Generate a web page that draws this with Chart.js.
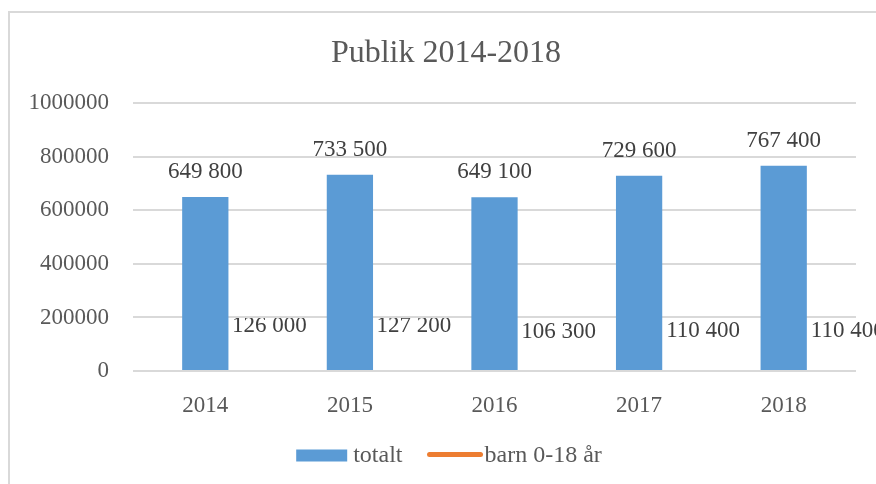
<!DOCTYPE html>
<html>
<head>
<meta charset="utf-8">
<title>Publik 2014-2018</title>
<script src="https://cdn.jsdelivr.net/npm/chart.js@4.4.1/dist/chart.umd.min.js"></script>
<style>
  html, body { margin: 0; padding: 0; background: #fff; }
  #wrap { position: relative; width: 876px; height: 484px; overflow: hidden; }
  #frame { position: absolute; left: 8px; top: 11px; width: 900px; height: 500px; border: 2px solid #d9d9d9; box-sizing: border-box; }
  #chart { position: absolute; left: 0; top: 0; }
</style>
</head>
<body>
<div id="wrap">
  <div id="frame"></div>
  <canvas id="chart" width="876" height="484"></canvas>
</div>
<script>
// values
const years = ['2014', '2015', '2016', '2017', '2018'];
const totalt = [649800, 733500, 649100, 729600, 767400];
const barn = [126000, 127200, 106300, 110400, 110400];
const yTicks = [0, 200000, 400000, 600000, 800000, 1000000];

const serif = '"Liberation Serif", "Times New Roman", serif';

// "649800" -> "649 800"
function fmt(v) {
  return String(v).replace(/\B(?=(\d{3})+(?!\d))/g, ' ');
}

const valueLabels = {
  id: 'valueLabels',
  // title sits a bit right of the canvas centre in the original
  afterLayout(chart) {
    chart.titleBlock.left = 36;
  },
  // barn labels sit underneath the grid and the bars
  beforeDraw(chart) {
    const ctx = chart.ctx;
    const meta = chart.getDatasetMeta(1);
    ctx.save();
    ctx.font = '23px ' + serif;
    ctx.fillStyle = '#404040';
    ctx.textAlign = 'center';
    ctx.textBaseline = 'middle';
    meta.data.forEach((pt, i) => ctx.fillText(fmt(barn[i]), pt.x + 64, pt.y - 11));
    ctx.restore();
  },
  afterDatasetsDraw(chart) {
    const ctx = chart.ctx;
    const meta = chart.getDatasetMeta(0);
    ctx.save();
    ctx.font = '23px ' + serif;
    ctx.fillStyle = '#404040';
    ctx.textAlign = 'center';
    ctx.textBaseline = 'middle';
    meta.data.forEach((bar, i) => ctx.fillText(fmt(totalt[i]), bar.x, bar.y - 25));
    ctx.restore();
  }
};

// legend drawn by hand so the key sizes match the original
const legendKeys = {
  id: 'legendKeys',
  afterDraw(chart) {
    const ctx = chart.ctx;
    const keyW = 51, textGap = 6, itemGap = 25, cy = 455.5;
    ctx.save();
    ctx.font = '24px ' + serif;
    ctx.textBaseline = 'middle';
    const items = chart.data.datasets.map(ds => ({
      text: ds.label,
      color: ds.backgroundColor,
      line: ds.type === 'line'
    }));
    const widths = items.map(it => keyW + textGap + ctx.measureText(it.text).width);
    const total = widths.reduce((a, b) => a + b, 0) + itemGap * (items.length - 1);
    let x = 449 - total / 2;
    items.forEach((it, i) => {
      if (it.line) {
        ctx.strokeStyle = it.color;
        ctx.lineWidth = 5;
        ctx.lineCap = 'round';
        ctx.beginPath();
        ctx.moveTo(x + 2, cy - 1);
        ctx.lineTo(x + keyW + 2, cy - 1);
        ctx.stroke();
      } else {
        ctx.fillStyle = it.color;
        ctx.fillRect(x, cy - 6, keyW, 12);
      }
      ctx.fillStyle = '#595959';
      ctx.fillText(it.text, x + keyW + textGap, cy);
      x += widths[i] + itemGap;
    });
    ctx.restore();
  }
};

new Chart(document.getElementById('chart'), {
  type: 'bar',
  data: {
    labels: years,
    datasets: [{
      label: 'totalt',
      data: totalt,
      backgroundColor: '#5b9bd5',
      borderWidth: 0,
      categoryPercentage: 1,
      barPercentage: 0.32
    }, {
      type: 'line',
      label: 'barn 0-18 år',
      data: barn,
      borderColor: '#ed7d31',
      backgroundColor: '#ed7d31',
      showLine: false,
      pointRadius: 0,
      pointHoverRadius: 0
    }]
  },
  options: {
    responsive: false,
    animation: false,
    devicePixelRatio: 1,
    events: [],
    layout: { padding: { left: 0, right: 20, top: 0, bottom: 60 } },
    plugins: {
      legend: { display: false },
      tooltip: { enabled: false },
      title: {
        display: true,
        text: 'Publik 2014-2018',
        color: '#595959',
        font: { family: serif, size: 32, weight: 'normal' },
        padding: { top: 34, bottom: 31 }
      }
    },
    scales: {
      x: {
        grid: { display: false },
        border: { display: false },
        ticks: {
          color: '#595959',
          font: { family: serif, size: 23 },
          padding: 13
        },
        afterFit(scale) { scale.height = 53; }
      },
      y: {
        min: 0,
        max: 1000000,
        grid: { color: '#d9d9d9', lineWidth: 2, drawTicks: false },
        border: { display: false },
        ticks: {
          color: '#595959',
          font: { family: serif, size: 23 },
          padding: 24,
          callback: v => String(v)
        },
        afterBuildTicks(scale) { scale.ticks = yTicks.map(v => ({ value: v })); },
        afterFit(scale) { scale.width = 133; }
      }
    }
  },
  plugins: [valueLabels, legendKeys]
});
</script>
</body>
</html>
